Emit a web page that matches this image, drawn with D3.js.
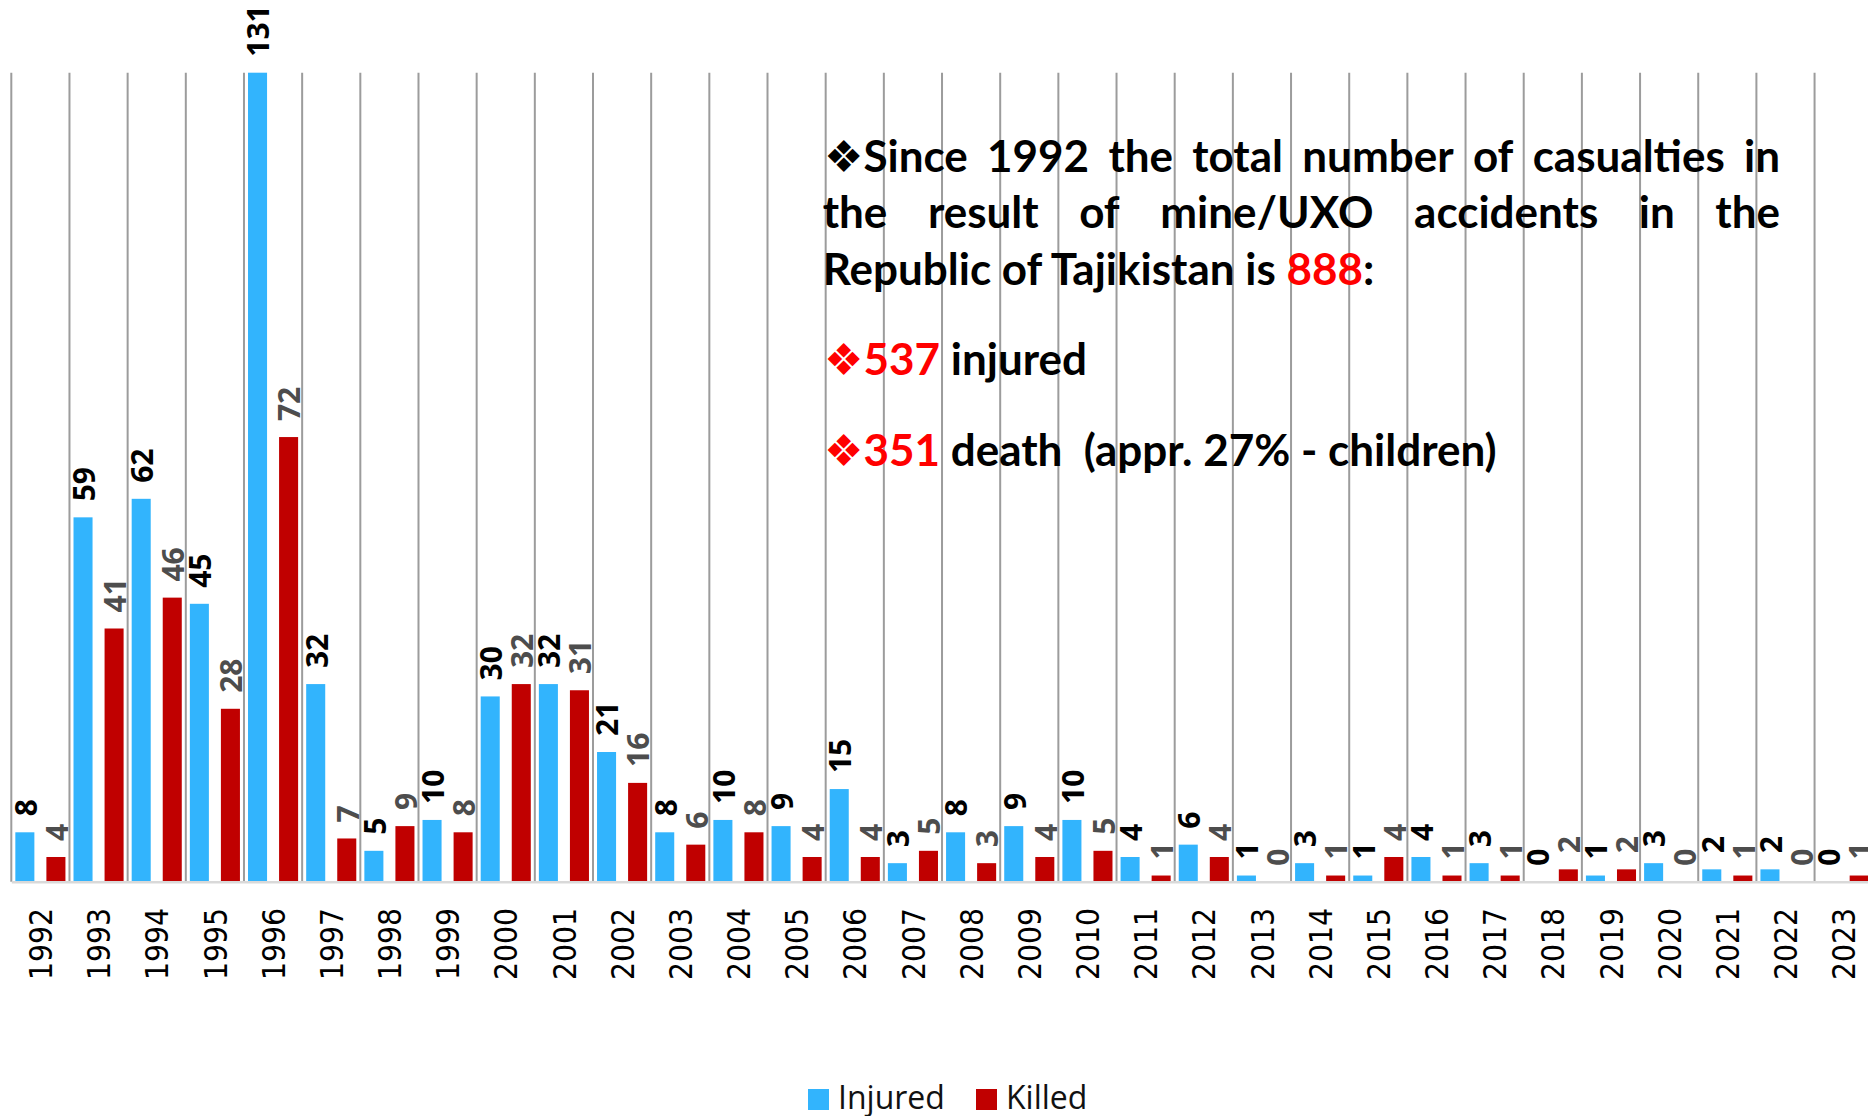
<!DOCTYPE html>
<html>
<head>
<meta charset="utf-8">
<script src="https://cdn.jsdelivr.net/npm/d3@7"></script>
<style>
  body { margin: 0; background: #fff; }
  svg { display: block; }
</style>
</head>
<body>
<div id="chart"></div>
<script>
var years = ["1992","1993","1994","1995","1996","1997","1998","1999","2000","2001",
             "2002","2003","2004","2005","2006","2007","2008","2009","2010","2011",
             "2012","2013","2014","2015","2016","2017","2018","2019","2020","2021",
             "2022","2023"];
var injured = [8,59,62,45,131,32,5,10,30,32,21,8,10,9,15,3,8,9,10,4,6,1,3,1,4,3,0,1,3,2,2,0];
var killed  = [4,41,46,28,72,7,9,8,32,31,16,6,8,4,4,5,3,4,5,1,4,0,1,4,1,1,2,2,0,1,0,1];
var seriesNames = ["Injured", "Killed"];
var seriesColors = ["#32b4fd", "#c00000"];

var width = 1868, height = 1116;
var plotLeft = 11.3, step = 58.17, plotTop = 72.7, plotBottom = 881.7;

var svg = d3.select("#chart")
  .append("svg")
    .attr("width", width)
    .attr("height", height);

var x0 = d3.scaleBand()
  .domain(years)
  .range([plotLeft, plotLeft + years.length * step]);

var x1 = d3.scaleBand()
  .domain(seriesNames)
  .range([0, x0.bandwidth()])
  .paddingInner(0.387)
  .paddingOuter(0.13);

var y = d3.scaleLinear()
  .domain([0, 131])
  .range([plotBottom, plotTop]);

var color = d3.scaleOrdinal().domain(seriesNames).range(seriesColors);

// vertical gridlines between the years
svg.append("g")
  .attr("class", "grid")
  .selectAll("line")
  .data(years)
  .enter()
  .append("line")
    .attr("x1", function(d){ return x0(d); })
    .attr("x2", function(d){ return x0(d); })
    .attr("y1", y(131))
    .attr("y2", y(0))
    .attr("stroke", "#9c9c9c")
    .attr("stroke-width", 2);

var rows = years.map(function(yr, i){
  return {year: yr, values: [
    {name: "Injured", value: injured[i]},
    {name: "Killed", value: killed[i]}
  ]};
});

var groups = svg.append("g")
  .selectAll("g")
  .data(rows)
  .enter()
  .append("g")
    .attr("transform", function(d){ return "translate(" + x0(d.year) + ",0)"; });

groups.selectAll("rect")
  .data(function(d){ return d.values; })
  .enter()
  .append("rect")
    .attr("x", function(d){ return x1(d.name); })
    .attr("y", function(d){ return y(d.value); })
    .attr("width", x1.bandwidth())
    .attr("height", function(d){ return y(0) - y(d.value); })
    .attr("fill", function(d){ return color(d.name); });

groups.selectAll("text")
  .data(function(d){ return d.values; })
  .enter()
  .append("text")
    .attr("transform", function(d){
      return "translate(" + (x1(d.name) + x1.bandwidth() / 2 + 1) + "," + (y(d.value) - 16) + ") rotate(-90)";
    })
    .attr("dy", "0.36em")
    .style("font-family", "'Open Sans', sans-serif")
    .style("font-size", "30px")
    .style("font-weight", "bold")
    .attr("fill", function(d){ return d.name === "Injured" ? "#000" : "#4d4d4d"; })
    .text(function(d){ return d.value; });

// x axis
var xAxis = svg.append("g")
  .attr("class", "x-axis")
  .attr("transform", "translate(0," + y(0) + ")")
  .call(d3.axisBottom(x0).tickSize(0));

xAxis.select(".domain")
  .attr("stroke", "#d9d9d9")
  .attr("stroke-width", 2.5);

xAxis.selectAll("text")
  .attr("transform", "rotate(-90)")
  .attr("x", -26.3)
  .attr("y", 0)
  .attr("dy", "0.37em")
  .style("text-anchor", "end")
  .style("font-family", "'DejaVu Sans Condensed', 'DejaVu Sans', sans-serif")
  .style("font-stretch", "condensed")
  .style("font-size", "31.5px")
  .attr("fill", "#000");

// legend
var legend = svg.append("g").attr("class", "legend");
var legendX = [808, 976];
seriesNames.forEach(function(name, i){
  legend.append("rect")
    .attr("x", legendX[i]).attr("y", 1089)
    .attr("width", 21).attr("height", 21)
    .attr("fill", color(name));
  legend.append("text")
    .attr("x", legendX[i] + 30).attr("y", 1109)
    .style("font-family", "'Open Sans', sans-serif")
    .style("font-size", "32px")
    .attr("fill", "#111")
    .text(name);
});

// text block
var note = svg.append("g")
  .attr("class", "note")
  .style("font-family", "Lato, 'DejaVu Sans', sans-serif")
  .style("font-size", "44px")
  .style("font-weight", "bold");

function justify(words, yPos, xa, xb) {
  var nodes = words.map(function(w){
    return note.append("text").attr("y", yPos).attr("fill", "#000").text(w);
  });
  var widths = nodes.map(function(n){ return n.node().getComputedTextLength(); });
  var gap = (xb - xa - d3.sum(widths)) / (words.length - 1);
  var cx = xa;
  nodes.forEach(function(n, i){
    n.attr("x", cx);
    cx += widths[i] + gap;
  });
}

justify(["\u2756Since","1992","the","total","number","of","casualties","in"], 171.7, 824, 1780);
justify(["the","result","of","mine/UXO","accidents","in","the"], 228.3, 822.7, 1780);

var l3 = note.append("text").attr("x", 822.7).attr("y", 285).attr("fill", "#000");
l3.append("tspan").text("Republic of Tajikistan is ");
l3.append("tspan").attr("fill", "#ff0000").text("888");
l3.append("tspan").text(":");

var l4 = note.append("text").attr("x", 824).attr("y", 375).attr("fill", "#000").style("white-space", "pre");
l4.append("tspan").attr("fill", "#ff0000").text("\u2756537");
l4.append("tspan").text(" injured");

var l5 = note.append("text").attr("x", 824).attr("y", 465.7).attr("fill", "#000").style("white-space", "pre");
l5.append("tspan").attr("fill", "#ff0000").text("\u2756351");
l5.append("tspan").text(" death  (appr. 27% - children)");
</script>
</body>
</html>
